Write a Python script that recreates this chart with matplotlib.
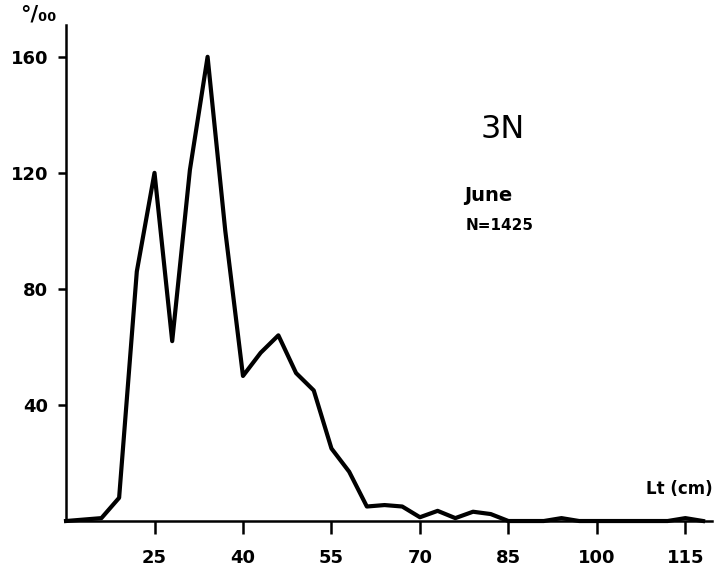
import matplotlib
matplotlib.use("Agg")
import matplotlib.pyplot as plt

# length classes (cm) and frequency per mille
length_cm = [10, 13, 16, 19, 22, 25, 28, 31, 34, 37, 40, 43, 46, 49, 52, 55,
             58, 61, 64, 67, 70, 73, 76, 79, 82, 85, 88, 91, 94, 97, 100,
             103, 106, 109, 112, 115, 118]
freq_permille = [0, 0.5, 1, 8, 86, 120, 62, 121, 160, 100, 50, 58, 64, 51, 45,
                 25, 17, 5, 5.5, 5, 1.3, 3.5, 1, 3.2, 2.4, 0, 0, 0, 1, 0, 0,
                 0, 0, 0, 0, 1, 0]

x_ticks = [25, 40, 55, 70, 85, 100, 115]
y_ticks = [40, 80, 120, 160]

fig = plt.figure(figsize=(7.28, 5.67), dpi=100)
ax = fig.add_axes([0.0907, 0.0811, 0.888, 0.875])

ax.plot(length_cm, freq_permille, color="black", lw=3.0,
        solid_joinstyle="round", clip_on=False)

ax.set_xlim(10, 119.6)
ax.set_ylim(0, 171)
ax.set_xticks(x_ticks)
ax.set_yticks(y_ticks)

for side in ("top", "right"):
    ax.spines[side].set_visible(False)
for side in ("left", "bottom"):
    ax.spines[side].set_linewidth(1.8)

ax.tick_params(axis="x", direction="out", length=9, width=1.8, pad=11,
               labelsize=13)
ax.tick_params(axis="y", direction="out", length=6, width=1.8, pad=7,
               labelsize=13)
for lab in ax.get_xticklabels() + ax.get_yticklabels():
    lab.set_fontweight("bold")

fig.text(0.052, 0.957, "°/₀₀", fontsize=15, fontweight="bold",
         ha="center", va="bottom")
ax.text(0.676, 0.789, "3N", transform=ax.transAxes, fontsize=23,
        ha="center", va="center")
fig.text(0.638, 0.645, "June", fontsize=14, fontweight="bold",
         ha="left", va="baseline")
fig.text(0.639, 0.595, "N=1425", fontsize=11, fontweight="bold",
         ha="left", va="baseline")
fig.text(0.979, 0.128, "Lt (cm)", fontsize=12, fontweight="bold",
         ha="right", va="baseline")

fig.savefig("out.png", dpi=100, facecolor="white")
